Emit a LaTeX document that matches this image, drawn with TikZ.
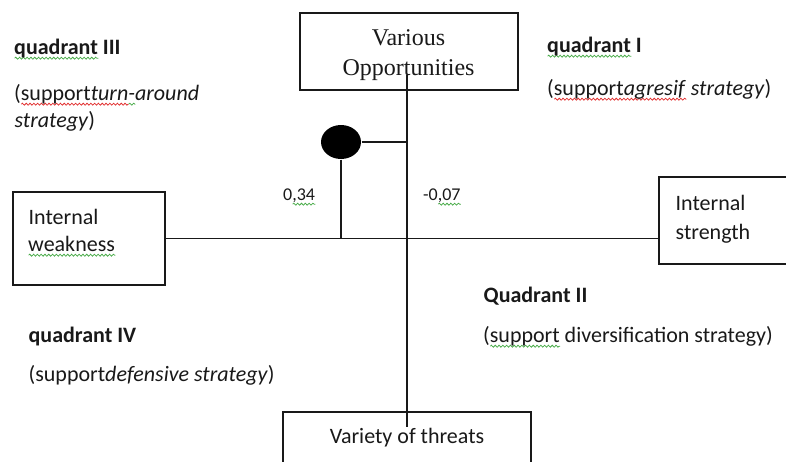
\documentclass[tikz,border=0pt]{standalone}
\usepackage{fontspec}
\setmainfont{Carlito}
\newfontfamily\timesfont{Liberation Serif}
\usetikzlibrary{shapes.geometric,decorations.pathmorphing}
\definecolor{wavered}{RGB}{225,45,45}
\definecolor{wavegreen}{RGB}{70,170,70}
\definecolor{ink}{RGB}{25,25,25}
\newlength\wavlen
\newcommand\wav[2]{\settowidth\wavlen{#2}\rlap{\tikz[baseline=0pt,x=1pt,y=1pt]\draw[#1,line width=0.75pt,decorate,decoration={snake,amplitude=1pt,segment length=3.8pt}] (0,-4.2) -- (\wavlen,-4.2);}#2}
\begin{document}
\begin{tikzpicture}[x=1pt,y=-1pt,line width=1.3pt,draw=ink,
  boxstyle/.style={draw=ink,line width=1.3pt,inner sep=0pt,fill=white},
  txt/.style={anchor=base west,inner sep=0pt,text=ink,font=\fontsize{22}{27}\selectfont},
  ctxt/.style={anchor=base,inner sep=0pt,text=ink,font=\fontsize{22}{27}\selectfont},
  serif/.style={anchor=base,inner sep=0pt,text=ink,font=\timesfont\fontsize{24}{30}\selectfont},
  numtxt/.style={anchor=base west,inner sep=0pt,text=ink,font=\fontsize{18}{20}\selectfont}]
\useasboundingbox (0,0) rectangle (786,461);

% boxes
\node[boxstyle,minimum width=218pt,minimum height=77pt] (opp) at (409,51.5) {};
\node[boxstyle,minimum width=152pt,minimum height=93pt] (weak) at (89,238.5) {};
\node[boxstyle,minimum width=141pt,minimum height=87pt] (strength) at (729.5,220.5) {};
\node[boxstyle,minimum width=248pt,minimum height=68pt] (threat) at (407,446) {};

% box texts
\node[serif] (opp1) at (408.5,45) {Various};
\node[serif] (opp2) at (408.5,75) {Opportunities};
\node[txt] (weak1) at (28,224) {Internal};
\node[txt] (weak2) at (28,251) {\wav{wavegreen}{weakness}};
\node[txt] (str1) at (675,210) {Internal};
\node[txt] (str2) at (675,239) {strength};
\node[ctxt] (thr) at (407,443) {Variety of threats};

% axes
\coordinate (vtop) at (407,75);
\coordinate (vbot) at (407,427);
\draw (vtop) -- (vbot);
\draw (weak.east) -- (weak.east -| strength.west);

% point
\node[ellipse,fill=black,draw=none,minimum width=40pt,minimum height=34pt,inner sep=0pt] (dot) at (341,142) {};
\draw (dot.east) -- (dot.east -| vtop);
\draw (dot.south) -- (dot.south |- weak.east);

% values
\node[numtxt] (v1) at (283,200) {0\wav{wavegreen}{,34}};
\node[numtxt] (v2) at (423,200) {-0\wav{wavegreen}{,07}};

% quadrant labels
\node[txt] (q3a) at (14,54) {\textbf{\wav{wavegreen}{quadrant} III}};
\node[txt] (q3b) at (14,100) {(\wav{wavered}{support\textit{turn}}\wav{wavegreen}{\textit{-}}\textit{around}};
\node[txt] (q3c) at (14,127) {\textit{strategy})};

\node[txt] (q1a) at (547,52) {\textbf{\wav{wavegreen}{quadrant} I}};
\node[txt] (q1b) at (547,95) {(\wav{wavered}{support\textit{agresif}} \textit{strategy})};

\node[txt] (q2a) at (483,302) {\textbf{Quadrant II}};
\node[txt] (q2b) at (483,342) {(\wav{wavegreen}{support} diversification strategy)};

\node[txt] (q4a) at (28,342) {\textbf{quadrant IV}};
\node[txt] (q4b) at (28,381) {(support\textit{defensive strategy})};
\end{tikzpicture}
\end{document}
